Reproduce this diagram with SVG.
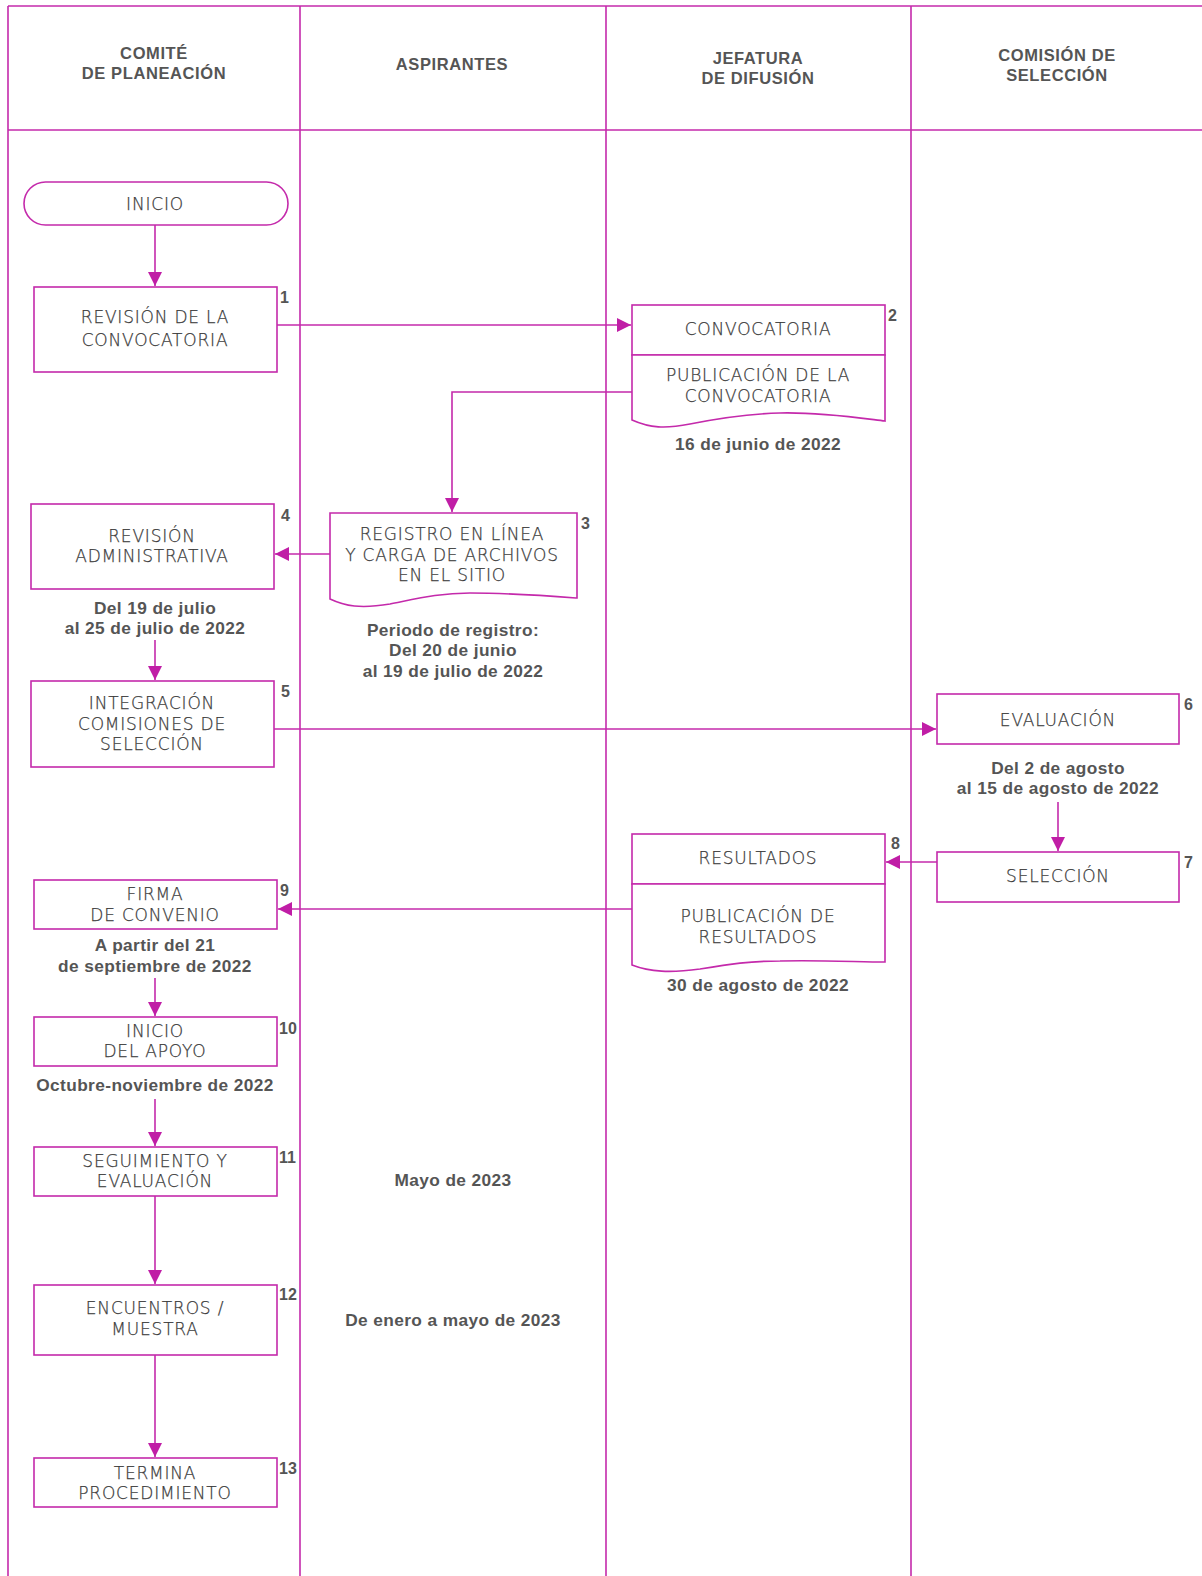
<svg xmlns="http://www.w3.org/2000/svg" width="1202" height="1576" viewBox="0 0 1202 1576">
<defs>
<marker id="ah" markerUnits="userSpaceOnUse" markerWidth="14" markerHeight="14" viewBox="0 0 14 14" refX="14" refY="7" orient="auto">
<path d="M0,0 L14,7 L0,14 Z" fill="#c01ea6"/>
</marker>
<style>
.grid{stroke:#c42aab;stroke-width:1.6;fill:none}
.box{stroke:#c42aab;stroke-width:1.6;fill:#fff}
.conn{stroke:#c42aab;stroke-width:1.6;fill:none;marker-end:url(#ah)}
.hd{font-family:"Liberation Sans",Arial,sans-serif;font-weight:700;font-size:16.5px;letter-spacing:0.6px;fill:#555;text-anchor:middle;dominant-baseline:central}
.t{font-family:"DejaVu Sans","Liberation Sans",sans-serif;font-weight:200;font-size:17px;letter-spacing:0.8px;fill:#3c3c3c;stroke:#3c3c3c;stroke-width:0.25px;text-anchor:middle;dominant-baseline:central}
.d{font-family:"Liberation Sans",Arial,sans-serif;font-weight:700;font-size:17.3px;letter-spacing:0.4px;fill:#555;text-anchor:middle;dominant-baseline:central}
.n{font-family:"Liberation Sans",Arial,sans-serif;font-weight:700;font-size:16px;fill:#555;text-anchor:start;dominant-baseline:central}
</style>
</defs>
<rect width="1202" height="1576" fill="#fff"/>
<g id="grid">
<line class="grid" x1="8" y1="6" x2="1202" y2="6"/>
<line class="grid" x1="8" y1="130" x2="1202" y2="130"/>
<line class="grid" x1="8" y1="6" x2="8" y2="1576"/>
<line class="grid" x1="300" y1="6" x2="300" y2="1576"/>
<line class="grid" x1="606" y1="6" x2="606" y2="1576"/>
<line class="grid" x1="911" y1="6" x2="911" y2="1576"/>
<text class="hd" x="154" y="53">COMITÉ</text>
<text class="hd" x="154" y="73">DE PLANEACIÓN</text>
<text class="hd" x="452" y="64">ASPIRANTES</text>
<text class="hd" x="758" y="58">JEFATURA</text>
<text class="hd" x="758" y="78">DE DIFUSIÓN</text>
<text class="hd" x="1057" y="55">COMISIÓN DE</text>
<text class="hd" x="1057" y="75">SELECCIÓN</text>
</g>
<g id="connectors">
<path class="conn" d="M155,225 V286"/>
<path class="conn" d="M277,325 H631"/>
<path class="conn" d="M632,392 H452 V512"/>
<path class="conn" d="M330,554 H275"/>
<path class="conn" d="M155,640 V680"/>
<path class="conn" d="M274,729 H936"/>
<path class="conn" d="M1058,802 V851"/>
<path class="conn" d="M937,862 H886"/>
<path class="conn" d="M632,909 H278"/>
<path class="conn" d="M155,978 V1016"/>
<path class="conn" d="M155,1099 V1146"/>
<path class="conn" d="M155,1196 V1284"/>
<path class="conn" d="M155,1355 V1457"/>
</g>
<g id="n0">
<rect class="box" x="24" y="182" width="264" height="43" rx="21.5"/>
<text class="t" x="155" y="204">INICIO</text>
</g>
<g id="n1">
<rect class="box" x="34" y="287" width="243" height="85"/>
<text class="t" x="155" y="317">REVISIÓN DE LA</text>
<text class="t" x="155" y="340">CONVOCATORIA</text>
<text class="n" x="280" y="297">1</text>
</g>
<g id="n2">
<rect class="box" x="632" y="305" width="253" height="50"/>
<path class="box" d="M632,355 H885 V421 C860,418 820,412 780,413 C740,414 710,420 690,424 C665,429 650,428 632,420 Z"/>
<text class="t" x="758" y="329">CONVOCATORIA</text>
<text class="t" x="758" y="375">PUBLICACIÓN DE LA</text>
<text class="t" x="758" y="396">CONVOCATORIA</text>
<text class="n" x="888" y="315">2</text>
<text class="d" x="758" y="444">16 de junio de 2022</text>
</g>
<g id="n3">
<path class="box" d="M330,513 H577 V598 C550,596 510,593 470,593 C440,593 420,598 390,604 C360,609 345,606 330,599 Z"/>
<text class="t" x="452" y="534">REGISTRO EN LÍNEA</text>
<text class="t" x="452" y="555">Y CARGA DE ARCHIVOS</text>
<text class="t" x="452" y="575">EN EL SITIO</text>
<text class="n" x="581" y="523">3</text>
<text class="d" x="453" y="630">Periodo de registro:</text>
<text class="d" x="453" y="650">Del 20 de junio</text>
<text class="d" x="453" y="671">al 19 de julio de 2022</text>
</g>
<g id="n4">
<rect class="box" x="31" y="504" width="243" height="85"/>
<text class="t" x="152" y="536">REVISIÓN</text>
<text class="t" x="152" y="556">ADMINISTRATIVA</text>
<text class="n" x="281" y="515">4</text>
<text class="d" x="155" y="608">Del 19 de julio</text>
<text class="d" x="155" y="628">al 25 de julio de 2022</text>
</g>
<g id="n5">
<rect class="box" x="31" y="681" width="243" height="86"/>
<text class="t" x="152" y="703">INTEGRACIÓN</text>
<text class="t" x="152" y="724">COMISIONES DE</text>
<text class="t" x="152" y="744">SELECCIÓN</text>
<text class="n" x="281" y="691">5</text>
</g>
<g id="n6">
<rect class="box" x="937" y="694" width="242" height="50"/>
<text class="t" x="1058" y="720">EVALUACIÓN</text>
<text class="n" x="1184" y="704">6</text>
<text class="d" x="1058" y="768">Del 2 de agosto</text>
<text class="d" x="1058" y="788">al 15 de agosto de 2022</text>
</g>
<g id="n7">
<rect class="box" x="937" y="852" width="242" height="50"/>
<text class="t" x="1058" y="876">SELECCIÓN</text>
<text class="n" x="1184" y="862">7</text>
</g>
<g id="n8">
<rect class="box" x="632" y="834" width="253" height="50"/>
<path class="box" d="M632,884 H885 V962 C860,962 820,960 780,961 C750,961 730,964 700,969 C670,973 650,972 632,965 Z"/>
<text class="t" x="758" y="858">RESULTADOS</text>
<text class="t" x="758" y="916">PUBLICACIÓN DE</text>
<text class="t" x="758" y="937">RESULTADOS</text>
<text class="n" x="891" y="843">8</text>
<text class="d" x="758" y="985">30 de agosto de 2022</text>
</g>
<g id="n9">
<rect class="box" x="34" y="880" width="243" height="49"/>
<text class="t" x="155" y="894">FIRMA</text>
<text class="t" x="155" y="915">DE CONVENIO</text>
<text class="n" x="280" y="890">9</text>
<text class="d" x="155" y="945">A partir del 21</text>
<text class="d" x="155" y="966">de septiembre de 2022</text>
</g>
<g id="n10">
<rect class="box" x="34" y="1017" width="243" height="49"/>
<text class="t" x="155" y="1031">INICIO</text>
<text class="t" x="155" y="1051">DEL APOYO</text>
<text class="n" x="279" y="1028">10</text>
<text class="d" x="155" y="1085">Octubre-noviembre de 2022</text>
</g>
<g id="n11">
<rect class="box" x="34" y="1147" width="243" height="49"/>
<text class="t" x="155" y="1161">SEGUIMIENTO Y</text>
<text class="t" x="155" y="1181">EVALUACIÓN</text>
<text class="n" x="279" y="1157">11</text>
<text class="d" x="453" y="1180">Mayo de 2023</text>
</g>
<g id="n12">
<rect class="box" x="34" y="1285" width="243" height="70"/>
<text class="t" x="155" y="1308">ENCUENTROS /</text>
<text class="t" x="155" y="1329">MUESTRA</text>
<text class="n" x="279" y="1294">12</text>
<text class="d" x="453" y="1320">De enero a mayo de 2023</text>
</g>
<g id="n13">
<rect class="box" x="34" y="1458" width="243" height="49"/>
<text class="t" x="155" y="1473">TERMINA</text>
<text class="t" x="155" y="1493">PROCEDIMIENTO</text>
<text class="n" x="279" y="1468">13</text>
</g>
</svg>
